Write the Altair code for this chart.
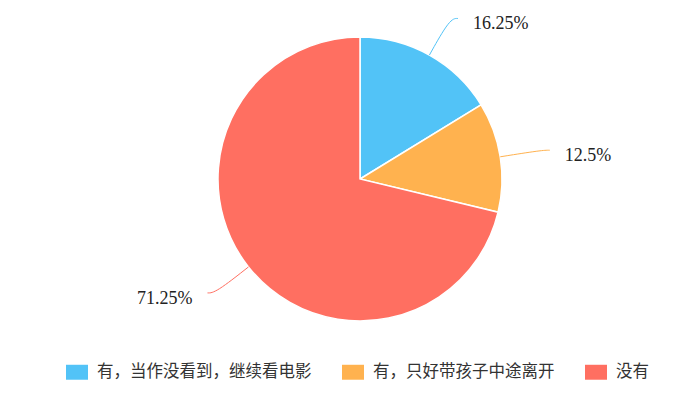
import altair as alt
import pandas as pd
import numpy as np

categories = ["有，当作没看到，继续看电影", "有，只好带孩子中途离开", "没有"]
values = [16.25, 12.5, 71.25]
labels = ["16.25%", "12.5%", "71.25%"]
colors = ["#52C3F7", "#FFB24F", "#FF6F61"]

W, H = 684, 389
CX, CY = 352, 171
R = 142
L1, L2, GAP = 42, 8, 15

df = pd.DataFrame({"cat": categories, "val": values, "label": labels, "order": range(len(values))})

# leader lines computed from slice mid-angles
cum = np.cumsum(values) - np.array(values) / 2
ang = np.deg2rad(cum / 100 * 360)
lines = []
texts = []
for i, a in enumerate(ang):
    sx, sy = R * np.sin(a), R * np.cos(a)
    mx, my = (R + L1) * np.sin(a), (R + L1) * np.cos(a)
    side = 1 if np.sin(a) >= 0 else -1
    ex, ey = mx + side * L2, my
    for k, (px, py) in enumerate([(sx, sy), (mx, my), (ex, ey)]):
        lines.append({"cat": categories[i], "k": k, "px": px, "py": py})
    texts.append({"label": labels[i], "tx": ex + side * GAP, "ty": ey, "side": side})
ldf = pd.DataFrame(lines)
tdf = pd.DataFrame(texts)

xs = alt.Scale(domain=[-CX, W - CX], nice=False, zero=False)
ys = alt.Scale(domain=[-(H - CY), CY], nice=False, zero=False)
cs = alt.Scale(domain=categories, range=colors)

SERIF = "Liberation Serif, Times New Roman, serif"

pie = alt.Chart(df).mark_arc(radius=R, stroke="white", strokeWidth=1.5).encode(
    theta=alt.Theta("val:Q", stack=True),
    order=alt.Order("order:Q"),
    color=alt.Color("cat:N", scale=cs, sort=categories, title=None,
                    legend=alt.Legend(orient="none", legendX=58, legendY=353, direction="horizontal",
                                      columns=3, symbolType="M-1,-0.68H1V0.68H-1Z", symbolSize=484,
                                      symbolStrokeWidth=0, labelFontSize=16.5, labelFont="Noto Sans CJK SC",
                                      labelColor="#333333", labelOffset=9, columnPadding=30,
                                      labelLimit=400)),
    x=alt.value(CX), y=alt.value(CY),
)

leader = alt.Chart(ldf).mark_line(strokeWidth=1, interpolate="basis").encode(
    x=alt.X("px:Q", scale=xs, axis=None),
    y=alt.Y("py:Q", scale=ys, axis=None),
    color=alt.Color("cat:N", scale=cs, legend=None),
    detail="cat:N",
    order="k:Q",
)

txt_r = alt.Chart(tdf).transform_filter("datum.side > 0").mark_text(
    align="left", baseline="middle", fontSize=18, font=SERIF, color="#222222", dy=6
).encode(x=alt.X("tx:Q", scale=xs, axis=None), y=alt.Y("ty:Q", scale=ys, axis=None), text="label:N")

txt_l = alt.Chart(tdf).transform_filter("datum.side < 0").mark_text(
    align="right", baseline="middle", fontSize=18, font=SERIF, color="#222222", dy=6
).encode(x=alt.X("tx:Q", scale=xs, axis=None), y=alt.Y("ty:Q", scale=ys, axis=None), text="label:N")

chart = alt.layer(pie, leader, txt_r, txt_l).properties(
    width=W, height=H, padding=0, autosize=alt.AutoSizeParams(type="none"), background="white"
).configure_view(stroke=None)

chart.save("out.html", embed_options={"renderer": "svg", "actions": False})
